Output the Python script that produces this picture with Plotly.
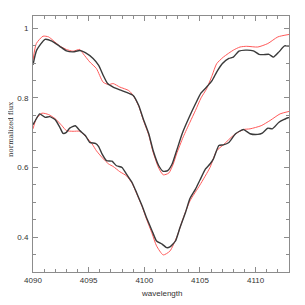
import plotly.graph_objects as go

# Upper pair
up_obs_x = [4090.0, 4090.33, 4091.08, 4091.7, 4092.4, 4093.0, 4093.6, 4094.2, 4094.7, 4095.4, 4095.9,
            4096.3, 4096.7, 4097.2, 4097.8, 4098.4, 4099.0, 4099.5, 4099.9, 4100.4, 4100.8, 4101.3,
            4101.7, 4102.1, 4102.5, 4102.9, 4103.4, 4104.0, 4104.6, 4105.1, 4105.6, 4106.1, 4106.5,
            4107.0, 4107.6, 4108.0, 4108.5, 4109.1, 4109.8, 4110.3, 4110.7, 4111.2, 4111.6, 4112.1,
            4112.6, 4113.0]
up_obs_y = [0.895, 0.937, 0.968, 0.963, 0.948, 0.935, 0.932, 0.936, 0.930, 0.913, 0.893,
            0.865, 0.841, 0.831, 0.823, 0.816, 0.807, 0.778, 0.740, 0.697, 0.648, 0.605,
            0.589, 0.591, 0.610, 0.648, 0.697, 0.742, 0.783, 0.814, 0.831, 0.850, 0.874,
            0.898, 0.913, 0.917, 0.934, 0.937, 0.935, 0.925, 0.924, 0.925, 0.917, 0.932,
            0.949, 0.949]

up_mod_x = [4090.0, 4090.3, 4090.9, 4091.4, 4091.8, 4092.4, 4093.0, 4093.6, 4094.2, 4094.5, 4095.1,
            4095.7, 4096.3, 4096.8, 4097.2, 4097.8, 4098.6, 4099.0, 4099.5, 4099.9, 4100.4, 4100.8,
            4101.3, 4101.7, 4102.2, 4102.6, 4102.9, 4103.5, 4104.1, 4104.6, 4105.1, 4105.6, 4106.1,
            4106.5, 4107.1, 4108.0, 4108.6, 4109.2, 4110.2, 4111.1, 4112.0, 4113.0]
up_mod_y = [0.908, 0.956, 0.977, 0.975, 0.965, 0.949, 0.939, 0.934, 0.939, 0.927, 0.903,
            0.884, 0.845, 0.838, 0.841, 0.831, 0.821, 0.807, 0.776, 0.737, 0.693, 0.643,
            0.598, 0.579, 0.584, 0.610, 0.639, 0.688, 0.730, 0.764, 0.800, 0.826, 0.865,
            0.898, 0.917, 0.937, 0.946, 0.948, 0.946, 0.956, 0.975, 0.982]

# Lower pair
lo_obs_x = [4090.0, 4090.3, 4090.6, 4091.1, 4091.5, 4092.0, 4092.4, 4092.7, 4093.0, 4093.3, 4093.8,
            4094.2, 4094.7, 4095.1, 4095.6, 4095.9, 4096.2, 4096.6, 4097.1, 4097.5, 4098.0, 4098.4,
            4098.9, 4099.3, 4099.8, 4100.2, 4100.7, 4101.1, 4101.6, 4102.0, 4102.3, 4102.8, 4103.2,
            4103.7, 4104.1, 4104.6, 4105.0, 4105.5, 4105.9, 4106.2, 4106.7, 4107.1, 4107.6, 4108.2,
            4108.9, 4109.5, 4110.2, 4110.6, 4111.1, 4111.5, 4112.1, 4112.9, 4113.0]
lo_obs_y = [0.723, 0.740, 0.754, 0.744, 0.746, 0.737, 0.716, 0.698, 0.701, 0.713, 0.720,
            0.706, 0.692, 0.672, 0.669, 0.660, 0.639, 0.620, 0.618, 0.605, 0.600, 0.581,
            0.557, 0.528, 0.490, 0.456, 0.418, 0.389, 0.380, 0.370, 0.372, 0.389, 0.427,
            0.471, 0.511, 0.538, 0.564, 0.596, 0.610, 0.624, 0.663, 0.665, 0.672, 0.697,
            0.709, 0.697, 0.695, 0.699, 0.713, 0.711, 0.730, 0.743, 0.743]

lo_mod_x = [4090.0, 4090.3, 4090.8, 4091.4, 4092.0, 4092.6, 4093.0, 4093.6, 4094.2, 4094.8, 4095.3,
            4095.7, 4096.2, 4096.8, 4097.2, 4097.8, 4098.4, 4098.9, 4099.3, 4099.8, 4100.2, 4100.7,
            4101.1, 4101.7, 4102.3, 4102.9, 4103.5, 4104.1, 4105.0, 4105.9, 4106.5, 4107.1, 4108.0,
            4108.9, 4109.5, 4110.5, 4111.3, 4112.2, 4113.0]
lo_mod_y = [0.711, 0.740, 0.756, 0.752, 0.740, 0.720, 0.706, 0.704, 0.704, 0.687, 0.668,
            0.648, 0.629, 0.610, 0.603, 0.588, 0.576, 0.555, 0.526, 0.488, 0.452, 0.410,
            0.375, 0.349, 0.360, 0.399, 0.455, 0.504, 0.550, 0.600, 0.648, 0.665, 0.692,
            0.709, 0.711, 0.720, 0.735, 0.754, 0.761]

x_tick_vals = [4090, 4095, 4100, 4105, 4110]
y_tick_vals = [0.4, 0.6, 0.8, 1.0]
y_tick_text = ["0.4", "0.6", "0.8", "1"]

BLACK = "#3a3a3a"
RED = "#ff5a5a"
FONT = "Liberation Sans, Arial, sans-serif"

fig = go.Figure()
for xs, ys in [(up_mod_x, up_mod_y), (lo_mod_x, lo_mod_y)]:
    fig.add_trace(go.Scatter(x=xs, y=ys, mode="lines", line=dict(color=RED, width=1, shape="spline", smoothing=0.6),
                             showlegend=False, hoverinfo="skip"))
for xs, ys in [(up_obs_x, up_obs_y), (lo_obs_x, lo_obs_y)]:
    fig.add_trace(go.Scatter(x=xs, y=ys, mode="lines", line=dict(color=BLACK, width=1.4, shape="spline", smoothing=0.5),
                             showlegend=False, hoverinfo="skip"))

axis_common = dict(
    showgrid=False, zeroline=False, showline=True, linecolor="#8c8c8c", linewidth=1,
    mirror="allticks", ticks="inside", ticklen=5, tickwidth=1, tickcolor="#8c8c8c",
    tickfont=dict(family=FONT, size=8, color="#333333"), automargin=False,
)

fig.update_xaxes(
    range=[4090, 4113], tickvals=x_tick_vals,
    minor=dict(dtick=1, ticks="inside", ticklen=3, tickcolor="#8c8c8c", showgrid=False),
    **axis_common,
)
fig.update_yaxes(
    range=[0.30, 1.035], tickvals=y_tick_vals, ticktext=y_tick_text,
    minor=dict(dtick=0.05, tick0=0, ticks="inside", ticklen=3, tickcolor="#8c8c8c", showgrid=False),
    ticklabelstandoff=2,
    **axis_common,
)

fig.add_annotation(text="wavelength", xref="paper", yref="paper", x=0.5, y=0, yshift=-15,
                   xanchor="center", yanchor="top", showarrow=False,
                   font=dict(family=FONT, size=8, color="#333333"))
fig.add_annotation(text="normalized flux", xref="paper", yref="paper", x=0, y=0.555, xshift=-22,
                   xanchor="center", yanchor="middle", textangle=-90, showarrow=False,
                   font=dict(family="DejaVu Serif, serif", size=7, color="#333333"))

fig.update_layout(
    width=297, height=297,
    margin=dict(l=25, r=16, t=8, b=33),
    paper_bgcolor="white", plot_bgcolor="white",
)

fig.write_html("out.html")
